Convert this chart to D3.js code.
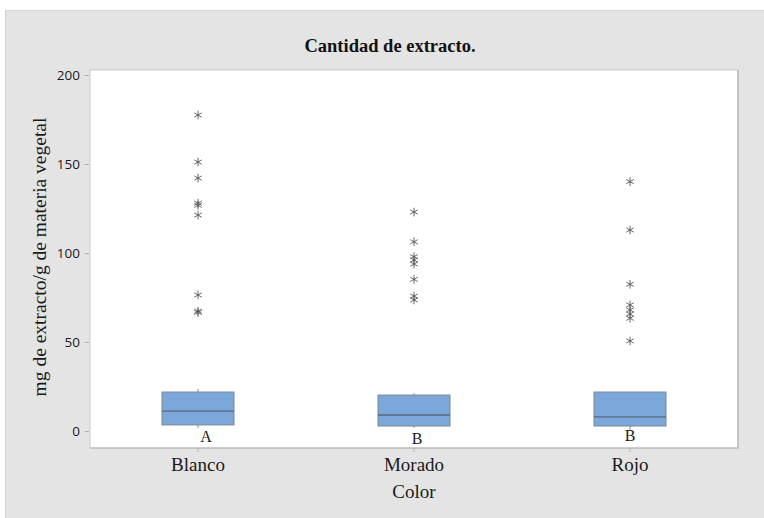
<!DOCTYPE html>
<html>
<head>
<meta charset="utf-8">
<script src="https://cdn.jsdelivr.net/npm/d3@7"></script>
<style>
  html, body { margin: 0; padding: 0; background: #ffffff; }
  svg { display: block; }
</style>
</head>
<body>
<svg id="chart" width="764" height="518"></svg>
<script>
// Extract yield by flower colour (mg extract / g plant material)
const categories = ["Blanco", "Morado", "Rojo"];
const groupLetters = ["A", "B", "B"];
const q1Values = [3.4, 2.8, 2.8];
const medianValues = [11.2, 9.0, 7.9];
const q3Values = [21.9, 20.2, 21.9];
const whiskerLow = [1.7, 1.7, 0.6];
const whiskerHigh = [23.6, 21.3, 21.9];
const outliersBlanco = [177.5, 151.1, 142.1, 128.0, 126.8, 121.3, 76.4, 67.3, 66.6];
const outliersMorado = [123.0, 106.3, 97.9, 96.1, 93.8, 85.2, 75.8, 73.6];
const outliersRojo = [140.1, 112.9, 82.4, 70.8, 68.0, 65.7, 63.3, 50.6];
const outliers = [outliersBlanco, outliersMorado, outliersRojo];
const yTicks = [0, 50, 100, 150, 200];

const svg = d3.select("#chart");
const W = 764, H = 518;
const plot = { left: 90, top: 70, right: 738, bottom: 448 };
const serif = "'Liberation Serif', 'Times New Roman', serif";

// background panel
svg.append("rect").attr("x", 0).attr("y", 0).attr("width", W).attr("height", H).attr("fill", "#ffffff");
svg.append("rect").attr("x", 5.5).attr("y", 10.5).attr("width", W).attr("height", H)
  .attr("fill", "#e4e4e4").attr("stroke", "#d2d2d2").attr("stroke-width", 1);

// plot frame
svg.append("rect")
  .attr("x", plot.left).attr("y", plot.top)
  .attr("width", plot.right - plot.left).attr("height", plot.bottom - plot.top)
  .attr("fill", "#ffffff").attr("stroke", "#c9c9c9").attr("stroke-width", 1);
svg.append("line").attr("x1", plot.right).attr("x2", plot.right)
  .attr("y1", plot.top).attr("y2", plot.bottom)
  .attr("stroke", "#c4c4c4").attr("stroke-width", 2);
svg.append("line").attr("x1", plot.left).attr("x2", plot.right + 1)
  .attr("y1", plot.bottom).attr("y2", plot.bottom)
  .attr("stroke", "#b4b4b4").attr("stroke-width", 1.2);

const x = d3.scaleBand().domain(categories).range([plot.left, plot.right]);
const y = d3.scaleLinear().domain([0, 200]).range([431, 75]);
const boxW = x.bandwidth() / 3;

// y axis
const yAxis = svg.append("g")
  .attr("transform", `translate(${plot.left - 1},0)`)
  .call(d3.axisLeft(y).tickValues(yTicks).tickSize(4).tickPadding(5));
yAxis.select(".domain").remove();
yAxis.selectAll(".tick line").attr("stroke", "#b0b0b0");
yAxis.selectAll(".tick text")
  .attr("font-family", "'Open Sans', 'Noto Sans', sans-serif")
  .attr("font-size", 13.5).attr("fill", "#1a1a1a");

// x axis
const xAxis = svg.append("g")
  .attr("transform", `translate(0,${plot.bottom})`)
  .call(d3.axisBottom(x).tickSize(4).tickPadding(6));
xAxis.select(".domain").remove();
xAxis.selectAll(".tick line").attr("stroke", "#b0b0b0");
xAxis.selectAll(".tick text")
  .attr("font-family", serif)
  .attr("font-size", 19).attr("fill", "#1a1a1a");

// boxes
const groups = categories.map((c, i) => ({
  cat: c, q1: q1Values[i], med: medianValues[i], q3: q3Values[i],
  lo: whiskerLow[i], hi: whiskerHigh[i], out: outliers[i], letter: groupLetters[i]
}));

const g = svg.append("g").selectAll("g").data(groups).join("g")
  .attr("transform", d => `translate(${x(d.cat) + x.bandwidth() / 2},0)`);

g.append("line").attr("x1", 0).attr("x2", 0)
  .attr("y1", d => y(d.hi)).attr("y2", d => y(d.q3))
  .attr("stroke", "#8a8a8a").attr("stroke-width", 1);
g.append("line").attr("x1", 0).attr("x2", 0)
  .attr("y1", d => y(d.q1)).attr("y2", d => y(d.lo))
  .attr("stroke", "#8a8a8a").attr("stroke-width", 1);

g.append("rect")
  .attr("x", -boxW / 2).attr("width", boxW)
  .attr("y", d => y(d.q3)).attr("height", d => y(d.q1) - y(d.q3))
  .attr("fill", "#7ba7db").attr("stroke", "#7c8896").attr("stroke-width", 1);
g.append("line")
  .attr("x1", -boxW / 2).attr("x2", boxW / 2)
  .attr("y1", d => y(d.med)).attr("y2", d => y(d.med))
  .attr("stroke", "#566778").attr("stroke-width", 1.3);

// outliers
const star = d3.symbol().type(d3.symbolAsterisk).size(52);
g.selectAll("path.out").data(d => d.out).join("path")
  .attr("class", "out")
  .attr("transform", v => `translate(0,${y(v)})`)
  .attr("d", star)
  .attr("fill", "none").attr("stroke", "#555").attr("stroke-width", 0.9);

// grouping letters
const letterShift = [8, 3, 0];
const letterY = [438, 440, 437];
g.append("text")
  .attr("x", (d, i) => letterShift[i])
  .attr("y", (d, i) => letterY[i])
  .attr("text-anchor", "middle").attr("dominant-baseline", "middle")
  .attr("font-family", serif)
  .attr("font-size", 16).attr("fill", "#1a1a1a")
  .text(d => d.letter);

// titles
svg.append("text").attr("x", 390).attr("y", 52)
  .attr("text-anchor", "middle")
  .attr("font-family", serif)
  .attr("font-size", 18.5).attr("font-weight", "bold").attr("fill", "#111")
  .text("Cantidad de extracto.");

svg.append("text").attr("x", 414).attr("y", 498)
  .attr("text-anchor", "middle")
  .attr("font-family", serif)
  .attr("font-size", 19).attr("fill", "#1a1a1a")
  .text("Color");

svg.append("text")
  .attr("transform", "translate(46,257) rotate(-90)")
  .attr("text-anchor", "middle")
  .attr("font-family", serif)
  .attr("font-size", 19.5).attr("fill", "#1a1a1a")
  .text("mg de extracto/g de materia vegetal");
</script>
</body>
</html>
